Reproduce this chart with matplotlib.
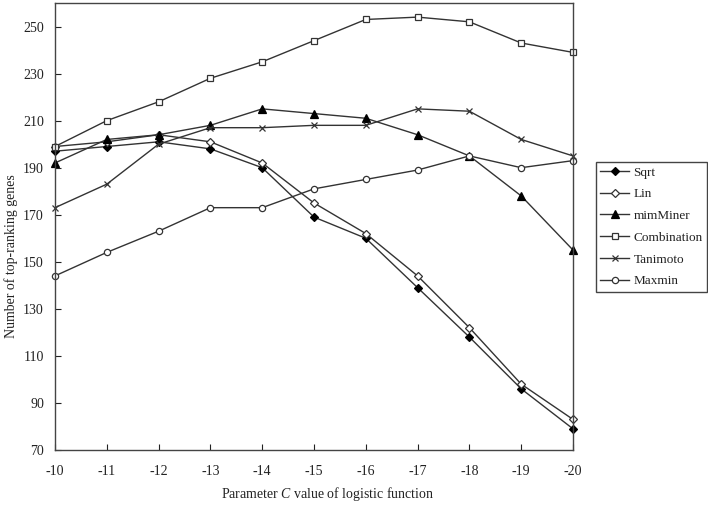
import matplotlib
matplotlib.use("Agg")
import matplotlib.pyplot as plt

C_values = [-10, -11, -12, -13, -14, -15, -16, -17, -18, -19, -20]
sqrt_vals = [197, 199, 201, 198, 190, 169, 160, 139, 118, 96, 79]
lin_vals = [199, 201, 204, 201, 192, 175, 162, 144, 122, 98, 83]
mimminer_vals = [192, 202, 204, 208, 215, 213, 211, 204, 195, 178, 155]
combination_vals = [199, 210, 218, 228, 235, 244, 253, 254, 252, 243, 239]
tanimoto_vals = [173, 183, 200, 207, 207, 208, 208, 215, 214, 202, 195]
maxmin_vals = [144, 154, 163, 173, 173, 181, 185, 189, 195, 190, 193]
y_ticks = [70, 90, 110, 130, 150, 170, 190, 210, 230, 250]

plt.rcParams['font.family'] = ['Liberation Serif', 'DejaVu Serif']
plt.rcParams['mathtext.fontset'] = 'custom'
plt.rcParams['mathtext.rm'] = 'Liberation Serif'
plt.rcParams['mathtext.it'] = 'Liberation Serif:italic'

fig = plt.figure(figsize=(7.08, 5.05), dpi=100)
ax = fig.add_axes([55/708, 1-450/505, (573-55)/708, (450-3)/505])

lc = '#333333'
series = [
    ("Sqrt", sqrt_vals, dict(marker='D', markerfacecolor='black', markeredgecolor='black', markersize=4)),
    ("Lin", lin_vals, dict(marker='D', markerfacecolor='white', markeredgecolor='#333333', markersize=4.5)),
    ("mimMiner", mimminer_vals, dict(marker='^', markerfacecolor='black', markeredgecolor='black', markersize=5.5)),
    ("Combination", combination_vals, dict(marker='s', markerfacecolor='white', markeredgecolor='#333333', markersize=5)),
    ("Tanimoto", tanimoto_vals, dict(marker='x', markerfacecolor='none', markeredgecolor='#333333', markersize=5)),
    ("Maxmin", maxmin_vals, dict(marker='o', markerfacecolor='white', markeredgecolor='#333333', markersize=4.5)),
]
handles = []
for name, vals, style in series:
    h, = ax.plot(C_values, vals, color=lc, linewidth=1.0, label=name,
                 markeredgewidth=0.9, clip_on=False, **style)
    handles.append(h)

ax.set_xlim(-10, -20)
ax.set_ylim(70, 260)
ax.set_xticks(C_values)
ax.set_xticklabels([str(c) for c in C_values])
ax.set_yticks(y_ticks)
ax.tick_params(direction='in', length=4, width=0.8, labelsize=10, colors='#222222',
               top=False, right=False)
ax.tick_params(axis='x', pad=11)
ax.tick_params(axis='y', pad=8)
for s in ax.spines.values():
    s.set_color('#444444')
    s.set_linewidth(1.0)

ax.set_xlabel("Parameter $\\mathit{C}$ value of logistic function", fontsize=10, color='#222222')
ax.xaxis.set_label_coords((328-55)/518, -(485-450)/447)
ax.set_ylabel("Number of top-ranking genes", fontsize=10, color='#222222')
ax.yaxis.set_label_coords(-(55-18)/518, (450-256)/447)

leg = fig.legend(handles=handles, loc='upper left',
                 bbox_to_anchor=(596/708, 1-162/505), borderaxespad=0,
                 fontsize=9.5, frameon=True, fancybox=False, framealpha=1,
                 edgecolor='#444444', handlelength=2.2, handletextpad=0.3,
                 labelspacing=0.72, borderpad=0.33)
leg.get_frame().set_linewidth(1.0)
for t in leg.get_texts():
    t.set_color('#222222')

fig.savefig("out.png", dpi=100)
